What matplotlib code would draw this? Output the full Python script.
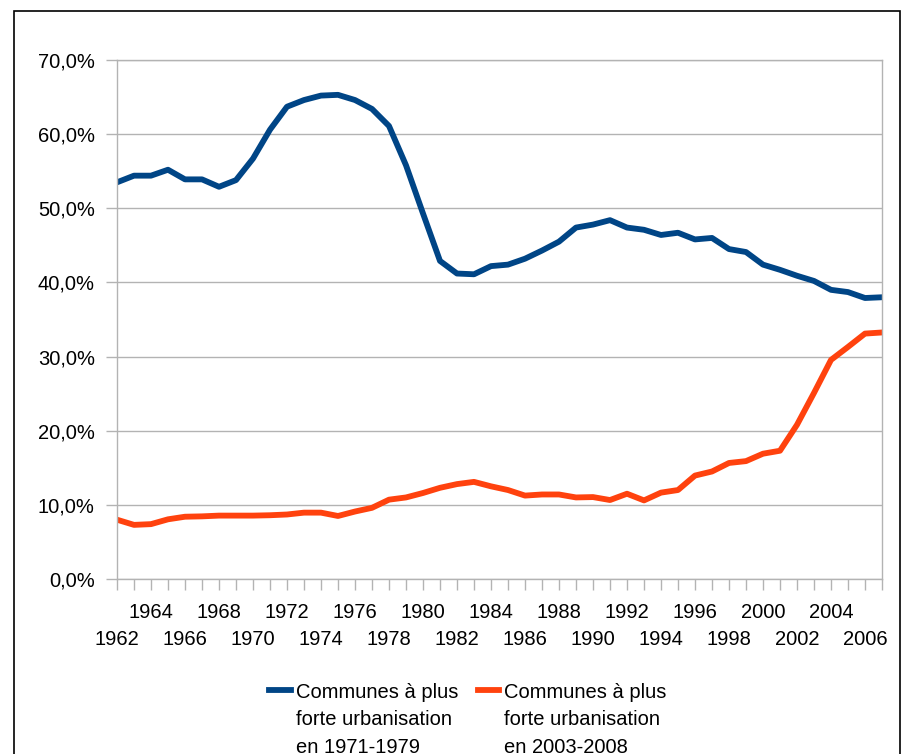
import numpy as np
import matplotlib.pyplot as plt
from matplotlib.patches import Rectangle

plt.rcParams['font.family'] = ['Liberation Sans', 'DejaVu Sans']

years = list(range(1962, 2008))

# part de la population (%), communes à plus forte urbanisation en 1971-1979
urb_1971_1979 = [53.5, 54.4, 54.4, 55.2, 53.9, 53.9, 52.9, 53.8, 56.7, 60.6,
                 63.7, 64.6, 65.2, 65.3, 64.6, 63.4, 61.1, 55.8, 49.3, 42.9,
                 41.2, 41.1, 42.2, 42.4, 43.2, 44.3, 45.5, 47.4, 47.8, 48.4,
                 47.4, 47.1, 46.4, 46.7, 45.8, 46.0, 44.5, 44.1, 42.4, 41.7,
                 40.9, 40.2, 39.0, 38.7, 37.9, 38.0]

# communes à plus forte urbanisation en 2003-2008
urb_2003_2008 = [8.0, 7.3, 7.4, 8.05, 8.4, 8.45, 8.55, 8.55, 8.55, 8.6,
                 8.7, 8.95, 8.95, 8.5, 9.1, 9.6, 10.7, 11.0, 11.6, 12.3,
                 12.8, 13.1, 12.5, 12.0, 11.25, 11.4, 11.4, 11.0, 11.05, 10.65,
                 11.5, 10.6, 11.65, 12.0, 13.95, 14.5, 15.65, 15.9, 16.9, 17.3,
                 20.8, 25.1, 29.55, 31.3, 33.1, 33.25]

labels = ["Communes à plus\nforte urbanisation\nen 1971-1979",
          "Communes à plus\nforte urbanisation\nen 2003-2008"]

fs = 14.5

fig = plt.figure(figsize=(9.03, 7.54), dpi=100)
ax = fig.add_axes([117 / 903, 1 - 579 / 754, 765 / 903, 519 / 754])

ax.plot(years, urb_1971_1979, color='#004586', lw=4.2, label=labels[0],
        solid_joinstyle='round')
ax.plot(years, urb_2003_2008, color='#ff420e', lw=4.2, label=labels[1],
        solid_joinstyle='round')

ax.set_xlim(1962, 2007)
ax.set_ylim(0, 70)

yt = np.arange(0, 71, 10)
ax.set_yticks(yt)
ax.set_yticklabels([('%.1f%%' % v).replace('.', ',') for v in yt])
ax.grid(axis='y', color='#b3b3b3', lw=1)
ax.set_axisbelow(True)

ax.set_xticks(years)
ax.set_xticklabels([str(y) if y % 2 == 0 else '' for y in years])

ax.tick_params(axis='both', colors='#b3b3b3', labelcolor='black',
               labelsize=fs, length=8, width=1, direction='out')
ax.tick_params(axis='y', pad=8)
# étiquettes sur deux rangées
for y, tk in zip(years, ax.xaxis.get_major_ticks()):
    if y % 4 == 0:
        tk.set_pad(9)
    else:
        tk.set_pad(29)
for s in ax.spines.values():
    s.set_color('#b3b3b3')
    s.set_linewidth(1)

leg = fig.legend(loc='upper center', bbox_to_anchor=(468 / 903, 1 - 673 / 754),
                 ncol=2, frameon=False, fontsize=fs, handlelength=1.05,
                 handletextpad=0.25, columnspacing=1.0, borderpad=0)
for t in leg.get_texts():
    t.set_linespacing(1.55)
for col in leg._legend_handle_box.get_children():
    for row in col.get_children():
        row.align = 'top'

fig.patches.append(Rectangle((14 / 903, -0.1), 886 / 903, 1.1 - 11 / 754,
                             transform=fig.transFigure, fill=False,
                             edgecolor='black', lw=1.2))

fig.savefig('out.png', dpi=100)
